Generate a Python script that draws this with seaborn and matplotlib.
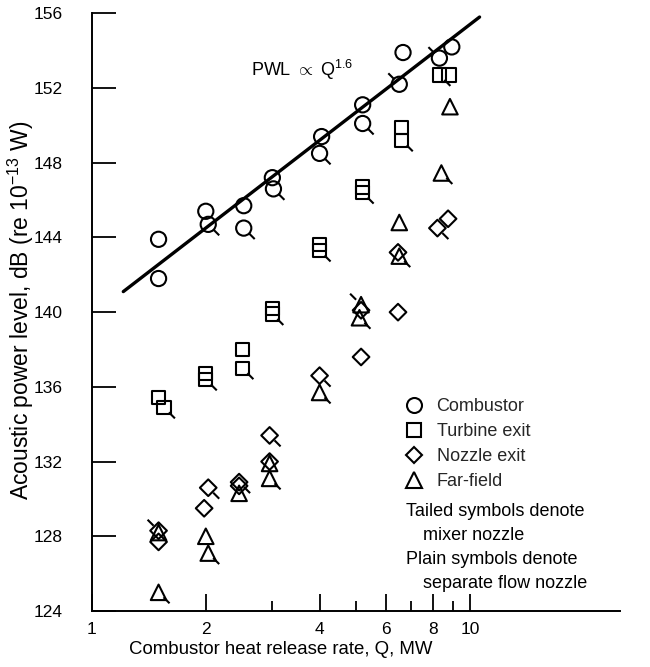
import numpy as np
import pandas as pd
import matplotlib
matplotlib.use("Agg")
import matplotlib.pyplot as plt
from matplotlib.path import Path
from matplotlib.lines import Line2D
from matplotlib.ticker import NullFormatter
import seaborn as sns

# ---------------- data ----------------
comb_q = [1.5, 1.5, 2.0, 2.03, 2.52, 2.52, 3.0, 3.02, 4.05, 4.0, 5.2, 5.2, 6.65, 6.5, 8.3, 8.95]
comb_lvl = [143.9, 141.8, 145.4, 144.7, 145.7, 144.5, 147.2, 146.6, 149.4, 148.5, 151.1, 150.1, 153.9, 152.2, 153.6, 154.2]
comb_tail = ["", "", "", "se", "", "se", "", "se", "", "se", "", "se", "", "nw", "nw", ""]

turb_q = [1.5, 1.55, 2.0, 2.0, 2.5, 2.5, 3.0, 3.0, 4.0, 4.0, 5.2, 5.2, 6.6, 6.6, 8.3, 8.8]
turb_lvl = [135.45, 134.9, 136.7, 136.4, 138.0, 137.0, 140.2, 139.9, 143.6, 143.3, 146.7, 146.4, 149.9, 149.2, 152.7, 152.7]
turb_tail = ["", "se", "", "se", "", "se", "", "se", "", "se", "", "se", "", "se", "se", ""]

noz_q = [1.5, 1.5, 2.03, 1.98, 2.45, 2.45, 2.95, 2.95, 4.0, 5.15, 5.15, 6.45, 6.45, 8.2, 8.75]
noz_lvl = [128.3, 127.7, 130.6, 129.5, 130.9, 130.7, 133.4, 132.0, 136.6, 140.1, 137.6, 143.2, 140.0, 144.5, 145.0]
noz_tail = ["nw", "", "se", "", "se", "", "se", "", "se", "", "", "", "", "se", ""]

far_q = [1.5, 1.5, 2.0, 2.03, 2.45, 2.95, 2.95, 4.0, 5.15, 5.1, 6.5, 6.5, 8.4, 8.85]
far_lvl = [128.2, 125.0, 128.0, 127.1, 130.3, 131.9, 131.1, 135.7, 140.4, 139.7, 144.8, 143.0, 147.45, 151.0]
far_tail = ["", "se", "", "se", "", "", "se", "se", "nw", "se", "", "se", "se", ""]

fit_q = [1.21, 10.6]
fit_lvl = [141.1, 155.8]

series_names = ["Combustor", "Turbine exit", "Nozzle exit", "Far-field"]
x_ticks = [1, 2, 4, 6, 8, 10]
x_minor = [3, 5, 7, 9]
y_ticks = [124, 128, 132, 136, 140, 144, 148, 152, 156]

# ---------------- style ----------------
sns.set_theme(style="white")
plt.rcParams["font.family"] = ["Liberation Sans", "DejaVu Sans"]
plt.rcParams["mathtext.fontset"] = "custom"
plt.rcParams["mathtext.rm"] = "Liberation Sans"
plt.rcParams["mathtext.it"] = "Liberation Sans:italic"
plt.rcParams["mathtext.bf"] = "Liberation Sans:bold"

W, H = 650, 667
fig = plt.figure(figsize=(W / 100, H / 100), dpi=100)
ax_l, ax_r, ax_t, ax_b = 92, 620, 13.3, 611
ax = fig.add_axes([ax_l / W, 1 - ax_b / H, (ax_r - ax_l) / W, (ax_b - ax_t) / H])
ax.set_xscale("log")
ax.set_xlim(1, 10 ** ((ax_r - ax_l) / 378))
ax.set_ylim(124, 156)

tail_se = Path([(0.45, -0.45), (1.0, -1.0)])
tail_nw = Path([(-0.45, 0.45), (-1.0, 1.0)])
MEW = 1.5

series = [
    ("o", 120, comb_q, comb_lvl, comb_tail),
    ("s", 90, turb_q, turb_lvl, turb_tail),
    ("D", 72, noz_q, noz_lvl, noz_tail),
    ("^", 125, far_q, far_lvl, far_tail),
]
for mk, s, q, lvl, tail in series:
    df = pd.DataFrame({"q": q, "lvl": lvl, "tail": tail})
    sns.scatterplot(data=df, x="q", y="lvl", marker=mk, s=s, facecolor="none",
                    edgecolor="black", linewidth=MEW, ax=ax, zorder=3, legend=False)
    for d, p in (("se", tail_se), ("nw", tail_nw)):
        sub = df[df["tail"] == d]
        if len(sub):
            sns.scatterplot(data=sub, x="q", y="lvl", marker=p, s=250, facecolor="none",
                            edgecolor="black", linewidth=MEW, ax=ax, zorder=3, legend=False)

sns.lineplot(x=fit_q, y=fit_lvl, color="black", linewidth=2.4, ax=ax, zorder=2)

# axes & ticks
for sp in ("top", "right"):
    ax.spines[sp].set_visible(False)
for sp in ("left", "bottom"):
    ax.spines[sp].set_linewidth(1.4)
    ax.spines[sp].set_color("black")
ax.set_xticks(x_ticks)
ax.set_xticklabels([str(t) for t in x_ticks])
ax.set_xticks(x_minor, minor=True)
ax.xaxis.set_minor_formatter(NullFormatter())
ax.set_yticks(y_ticks)
ax.set_yticklabels([str(t) for t in y_ticks])
ax.tick_params(axis="x", which="major", direction="in", length=12, width=1.3, pad=8,
               color="black", bottom=True, labelsize=12.5, labelcolor="black")
ax.tick_params(axis="x", which="minor", direction="in", length=7, width=1.3,
               color="black", bottom=True)
ax.tick_params(axis="y", which="major", direction="in", length=17, width=1.3, pad=21,
               color="black", left=True, labelsize=12.5, labelcolor="black")
ax.set_xlabel("")
ax.set_ylabel("")
ax.grid(False)

fig.text(281 / W, 1 - 650 / H, "Combustor heat release rate, Q, MW", ha="center", va="center",
         fontsize=13.4, color="black")
fig.text(21 / W, 1 - 310 / H, r"Acoustic power level, dB (re 10$^{-13}$ W)", ha="center", va="center",
         rotation=90, fontsize=16.5, color="black")

ax.text(10 ** ((251 - ax_l) / 378), 156 - (70 - ax_t) / 18.68, r"PWL $\propto$ Q$^{1.6}$",
        ha="left", va="center", fontsize=13, color="black")

# legend
handles = [Line2D([], [], marker=m, ls="none", mfc="none", mec="black", mew=MEW, ms=ms)
           for m, ms in (("o", 10.8), ("s", 9.4), ("D", 8.4), ("^", 11))]
leg = ax.legend(handles, series_names, loc="upper left", bbox_to_anchor=(405 / W, 1 - 398 / H),
                bbox_transform=fig.transFigure, frameon=False, fontsize=13, handlelength=1.05,
                handletextpad=0.7, borderpad=0, borderaxespad=0, labelspacing=0.45)

notes = [("Tailed symbols denote", 406, 512), ("mixer nozzle", 423, 535),
         ("Plain symbols denote", 406, 560), ("separate flow nozzle", 423, 583)]
for txt, x, y in notes:
    fig.text(x / W, 1 - y / H, txt, ha="left", va="center", fontsize=13, color="black")

fig.savefig("out.png", dpi=100, facecolor="white")
